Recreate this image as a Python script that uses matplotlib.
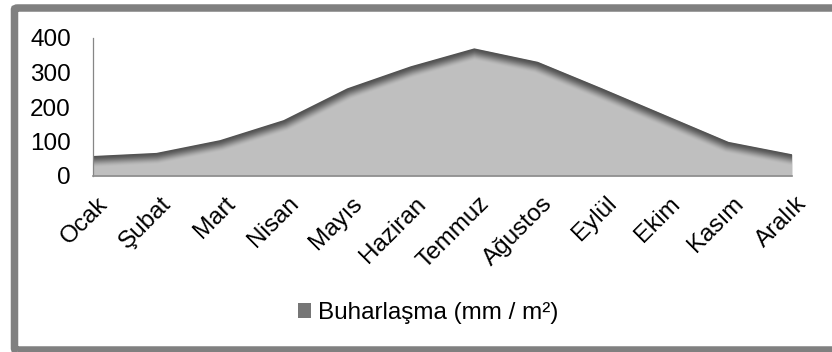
import numpy as np
import matplotlib
matplotlib.use("Agg")
import matplotlib.pyplot as plt
from matplotlib.patches import Patch, FancyBboxPatch
from matplotlib.transforms import ScaledTranslation

months = ["Ocak", "Şubat", "Mart", "Nisan", "Mayıs", "Haziran",
          "Temmuz", "Ağustos", "Eylül", "Ekim", "Kasım", "Aralık"]
evaporation = [58, 67, 104, 162, 254, 318, 370, 331, 255, 177, 99, 63]
y_ticks = [0, 100, 200, 300, 400]
series_label = "Buharlaşma (mm / m²)"

plt.rcParams["font.family"] = ["Liberation Sans", "DejaVu Sans"]
FS = 17.5

W_PX, H_PX, DPI = 832, 352, 100
fig = plt.figure(figsize=(W_PX / DPI, H_PX / DPI), dpi=DPI)
ax = fig.add_axes([93 / W_PX, 1 - 176 / H_PX, (792 - 93) / W_PX, (176 - 38) / H_PX])

x = np.arange(len(months))
y = np.array(evaporation, dtype=float)
ax.set_xlim(x[0], x[-1])
ax.set_ylim(0, 400)

# base area; its outline is reused as the clip region for the bevel shading
poly = ax.fill_between(x, 0, y, color="#c0c0c0", linewidth=0, zorder=1)

# bevel shading: dark along the top edge, fading into the light fill
ax_w = (792 - 93)
ax_h = (176 - 38)
ss = 2
gx = np.linspace(0, ax_w, ax_w * ss)
gy = np.linspace(0, ax_h, ax_h * ss)
GX, GY = np.meshgrid(gx, gy)
px = (x - x[0]) / (x[-1] - x[0]) * ax_w
py = y / 400.0 * ax_h
dist = np.full(GX.shape, np.inf)
for i in range(len(px) - 1):
    ax0, ay0, bx, by = px[i], py[i], px[i + 1], py[i + 1]
    dx, dy = bx - ax0, by - ay0
    t = ((GX - ax0) * dx + (GY - ay0) * dy) / (dx * dx + dy * dy)
    t = np.clip(t, 0, 1)
    d = np.hypot(GX - (ax0 + t * dx), GY - (ay0 + t * dy))
    dist = np.minimum(dist, d)
s = np.clip(dist / 12.0, 0, 1)
s = s * s * (3 - 2 * s)
dark, light = 82 / 255, 192 / 255
shade = dark + (light - dark) * s
rgb = np.dstack([shade, shade, shade])
im = ax.imshow(rgb, origin="lower", extent=[x[0], x[-1], 0, 400],
               aspect="auto", interpolation="bilinear", zorder=2)
im.set_clip_path(poly.get_paths()[0], transform=ax.transData)

# axes styling
for side in ("top", "right"):
    ax.spines[side].set_visible(False)
ax.spines["left"].set_color("#868686")
ax.spines["bottom"].set_color("#8c8c8c")
ax.spines["left"].set_linewidth(0.9)
ax.spines["bottom"].set_linewidth(1.2)
ax.spines["left"].set_zorder(3)
ax.spines["bottom"].set_zorder(3)

ax.set_yticks(y_ticks)
ax.set_yticklabels([str(v) for v in y_ticks], fontsize=FS)
ax.tick_params(axis="y", length=0, pad=16)

ax.set_xticks(x)
ax.set_xticklabels(months, fontsize=FS, rotation=45, ha="right", va="top",
                   rotation_mode="anchor")
ax.tick_params(axis="x", length=0, pad=12)
shift = ScaledTranslation(4 / DPI, 0, fig.dpi_scale_trans)
for lab in ax.get_xticklabels():
    lab.set_transform(lab.get_transform() + shift)

# legend below the plot
handle = Patch(facecolor="#767676", edgecolor="none", label=series_label)
fig.legend(handles=[handle], loc="center", bbox_to_anchor=(428 / W_PX, 1 - 313 / H_PX),
           frameon=False, fontsize=FS, handlelength=0.55, handleheight=0.55,
           handletextpad=0.25, borderpad=0)

# chart frame
frame = FancyBboxPatch((14.5 / W_PX, 1 - 350 / H_PX), (840 - 14.5) / W_PX, (350 - 8) / H_PX,
                       boxstyle="round,pad=0,rounding_size=0.004",
                       transform=fig.transFigure, facecolor="none",
                       edgecolor="#808080", linewidth=7.5 * 72 / DPI)
fig.patches.append(frame)

fig.savefig("out.png", dpi=DPI)
